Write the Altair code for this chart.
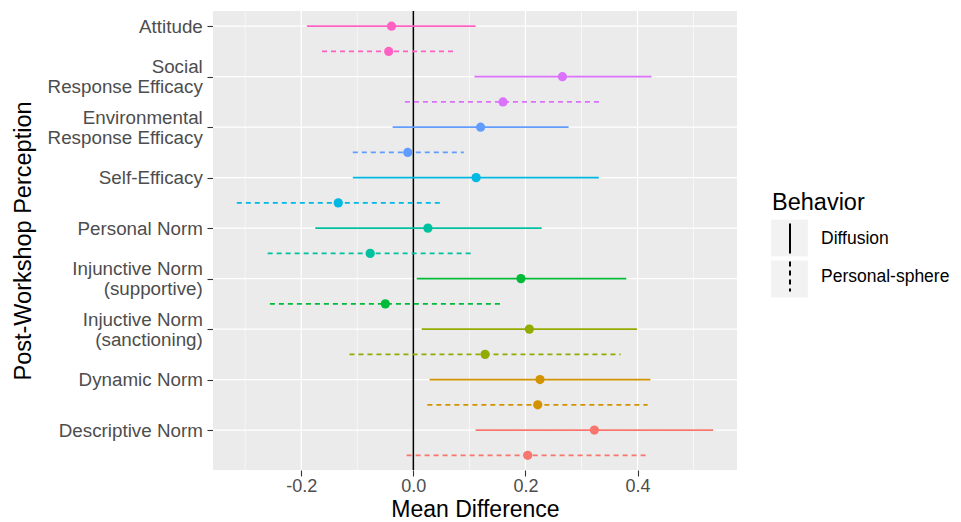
import json
import altair as alt
import pandas as pd

categories = [
    "Attitude",
    "Social \nResponse Efficacy",
    "Environmental \nResponse Efficacy",
    "Self-Efficacy",
    "Personal Norm",
    "Injunctive Norm \n(supportive)",
    "Injuctive Norm \n(sanctioning)",
    "Dynamic Norm",
    "Descriptive Norm",
]
colors = ["#FF61C3", "#DB72FB", "#619CFF", "#00B9E3", "#00C19F",
          "#00BA38", "#93AA00", "#D39200", "#F8766D"]
behaviors = ["Diffusion", "Personal-sphere"]

diff_mean = [-0.039, 0.266, 0.120, 0.112, 0.026, 0.192, 0.207, 0.226, 0.323]
diff_low = [-0.190, 0.109, -0.037, -0.108, -0.175, 0.006, 0.015, 0.029, 0.111]
diff_high = [0.111, 0.425, 0.277, 0.331, 0.229, 0.380, 0.399, 0.423, 0.535]
ps_mean = [-0.044, 0.160, -0.010, -0.134, -0.077, -0.050, 0.128, 0.222, 0.204]
ps_low = [-0.163, -0.015, -0.108, -0.315, -0.260, -0.256, -0.114, 0.025, -0.012]
ps_high = [0.074, 0.335, 0.090, 0.048, 0.108, 0.157, 0.370, 0.418, 0.420]

x_ticks = [-0.2, 0.0, 0.2, 0.4]
x_minor = [-0.3, -0.1, 0.1, 0.3, 0.5]

rows = []
for i, cat in enumerate(categories):
    rows.append(dict(cat=cat, behavior=behaviors[0], pos=i,
                     mean=diff_mean[i], low=diff_low[i], high=diff_high[i]))
    rows.append(dict(cat=cat, behavior=behaviors[1], pos=i + 0.5,
                     mean=ps_mean[i], low=ps_low[i], high=ps_high[i]))
df = pd.DataFrame(rows)

FONT = "Liberation Sans"
LABEL_SIZE = 18.8
LEGEND_LABEL_SIZE = 17.5
TITLE_SIZE = 23.5
LINE_H = 20

label_expr = json.dumps([c.split("\n") for c in categories]) + "[datum.value]"
two_line = [i for i, c in enumerate(categories) if "\n" in c]
label_offset = {"condition": {"test": "indexof(%s, datum.value) >= 0" % json.dumps(two_line),
                              "value": -LINE_H / 2},
                "value": 0}
x_label_expr = ("datum.value < 0 ? '-' + format(-datum.value, '.1f') "
                ": format(datum.value, '.1f')")

xscale = alt.Scale(domain=[-0.3575, 0.5775], nice=False, zero=False)
yscale = alt.Scale(domain=[-0.3, 8.79], nice=False, zero=False, reverse=True)
key_values = [b + " key" for b in behaviors]

x_enc = alt.X("low:Q", scale=xscale,
              axis=alt.Axis(values=x_ticks, labelExpr=x_label_expr, title="Mean Difference",
                            grid=False, domain=False, tickColor="#333333",
                            tickSize=6, tickWidth=1.1,
                            labelFontSize=18, labelColor="#4D4D4D",
                            labelPadding=1, titleFontSize=23,
                            titleFontWeight="normal", titleColor="black",
                            titlePadding=3, labelFont=FONT, titleFont=FONT))
y_enc = alt.Y("pos:Q", scale=yscale,
              axis=alt.Axis(values=list(range(len(categories))), labelExpr=label_expr,
                            title="Post-Workshop Perception", grid=False,
                            domain=False, tickColor="#333333", tickSize=6,
                            tickWidth=1.1, labelFontSize=LABEL_SIZE,
                            labelColor="#4D4D4D", labelAlign="right",
                            labelBaseline="middle", labelLineHeight=LINE_H,
                            labelOffset=label_offset, labelPadding=4.7,
                            titleFontSize=TITLE_SIZE, titleFontWeight="normal",
                            titleColor="black", titlePadding=12, labelFont=FONT,
                            titleFont=FONT))

color_enc = alt.Color("cat:N", scale=alt.Scale(domain=categories, range=colors),
                      legend=None)

panel = alt.Chart(pd.DataFrame({"a": [xscale.domain[0]], "b": [xscale.domain[1]],
                                "c": [yscale.domain[0]], "d": [yscale.domain[1]]})
                  ).mark_rect(color="#EBEBEB").encode(
    x=alt.X("a:Q", scale=xscale), x2="b:Q",
    y=alt.Y("c:Q", scale=yscale), y2="d:Q")

minor = alt.Chart(pd.DataFrame({"v": x_minor})).mark_rule(
    color="white", strokeWidth=0.6
).encode(x=alt.X("v:Q", scale=xscale))

major_x = alt.Chart(pd.DataFrame({"v": x_ticks})).mark_rule(
    color="white", strokeWidth=1.2
).encode(x=alt.X("v:Q", scale=xscale))

major_y = alt.Chart(pd.DataFrame({"v": list(range(len(categories)))})).mark_rule(
    color="white", strokeWidth=1.2
).encode(y=alt.Y("v:Q", scale=yscale))

zero = alt.Chart(pd.DataFrame({"v": [0.0]})).mark_rule(
    color="black", strokeWidth=1.5
).encode(x=alt.X("v:Q", scale=xscale))

bars = alt.Chart(df).mark_rule(strokeWidth=1.9).encode(
    x=x_enc,
    x2="high:Q",
    y=y_enc,
    color=color_enc,
    strokeDash=alt.StrokeDash(
        "behavior:N",
        scale=alt.Scale(domain=behaviors, range=[[1, 0], [5, 4]]),
        legend=alt.Legend(title="Behavior", orient="none", legendX=559, legendY=180,
                          symbolType="M0,-0.88L0,0.88", symbolSize=1156,
                          symbolStrokeColor="black", symbolStrokeWidth=2,
                          labelFontSize=LEGEND_LABEL_SIZE, titleFontSize=TITLE_SIZE,
                          titleFontWeight="normal", titleColor="black",
                          labelColor="black", rowPadding=0, titlePadding=6,
                          labelOffset=13, labelFont=FONT, titleFont=FONT),
    ),
)

keys = alt.Chart(pd.DataFrame({"k": key_values})).mark_square().encode(
    fill=alt.Fill("k:N", scale=alt.Scale(domain=key_values, range=["#F2F2F2", "#F2F2F2"]),
                  legend=alt.Legend(title=None, orient="none", legendX=559,
                                    legendY=180 + TITLE_SIZE + 6,
                                    symbolType="M-1.1,-1.1H1.1V1.1H-1.1Z",
                                    symbolSize=1156,
                                    symbolStrokeColor="white", symbolStrokeWidth=0.6,
                                    symbolOpacity=1, symbolFillColor="#F2F2F2",
                                    labelExpr="''", labelFontSize=LEGEND_LABEL_SIZE,
                                    rowPadding=0, labelOffset=13)),
).transform_filter("false")

points = alt.Chart(df).mark_circle(size=85, opacity=1).encode(
    x=alt.X("mean:Q", scale=xscale),
    y=alt.Y("pos:Q", scale=yscale),
    color=color_enc,
)

chart = alt.layer(panel, minor, major_x, major_y, keys, zero, bars, points).properties(
    width=524,
    height=459,
    autosize=alt.AutoSizeParams(type="none"),
    padding={"left": 205, "top": 3, "right": 216, "bottom": 52},
    background="white",
).configure_view(strokeWidth=0)

chart.save("out.html", embed_options={"renderer": "svg", "actions": False})
